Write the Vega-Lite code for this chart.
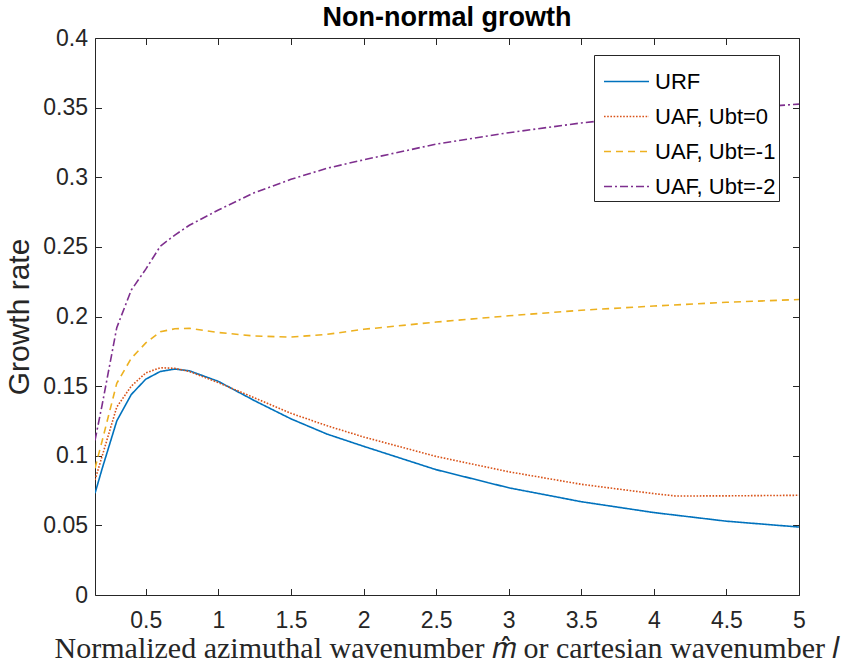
{
  "$schema": "https://vega.github.io/schema/vega-lite/v6.json",
  "width": 704,
  "height": 557,
  "autosize": {"type": "none"},
  "padding": {"left": 95, "top": 38, "right": 45, "bottom": 68},
  "background": "white",
  "title": {"text": "Non-normal growth", "font": "Liberation Sans", "fontSize": 27, "fontWeight": "bold", "color": "#000000", "offset": -5, "anchor": "middle"},
  "config": {"view": {"stroke": null}, "axis": {"grid": false}},
  "data": {"values": [
    {"k":0.15,"g":0.073,"s":"URF"},{"k":0.2,"g":0.091,"s":"URF"},{"k":0.3,"g":0.125,"s":"URF"},{"k":0.4,"g":0.144,"s":"URF"},{"k":0.5,"g":0.155,"s":"URF"},{"k":0.6,"g":0.1605,"s":"URF"},{"k":0.7,"g":0.1623,"s":"URF"},{"k":0.8,"g":0.161,"s":"URF"},{"k":1.0,"g":0.1534,"s":"URF"},{"k":1.25,"g":0.1395,"s":"URF"},{"k":1.5,"g":0.1265,"s":"URF"},{"k":1.75,"g":0.1155,"s":"URF"},{"k":2.0,"g":0.1068,"s":"URF"},{"k":2.5,"g":0.09,"s":"URF"},{"k":3.0,"g":0.077,"s":"URF"},{"k":3.5,"g":0.067,"s":"URF"},{"k":4.0,"g":0.0592,"s":"URF"},{"k":4.5,"g":0.053,"s":"URF"},{"k":5.0,"g":0.0488,"s":"URF"},
    {"k":0.15,"g":0.0826,"s":"UAF, Ubt=0"},{"k":0.2,"g":0.1,"s":"UAF, Ubt=0"},{"k":0.3,"g":0.135,"s":"UAF, Ubt=0"},{"k":0.4,"g":0.15,"s":"UAF, Ubt=0"},{"k":0.5,"g":0.1595,"s":"UAF, Ubt=0"},{"k":0.6,"g":0.1632,"s":"UAF, Ubt=0"},{"k":0.7,"g":0.1628,"s":"UAF, Ubt=0"},{"k":0.8,"g":0.1605,"s":"UAF, Ubt=0"},{"k":1.0,"g":0.1525,"s":"UAF, Ubt=0"},{"k":1.25,"g":0.1415,"s":"UAF, Ubt=0"},{"k":1.5,"g":0.1305,"s":"UAF, Ubt=0"},{"k":1.75,"g":0.1215,"s":"UAF, Ubt=0"},{"k":2.0,"g":0.1135,"s":"UAF, Ubt=0"},{"k":2.5,"g":0.0995,"s":"UAF, Ubt=0"},{"k":3.0,"g":0.0885,"s":"UAF, Ubt=0"},{"k":3.5,"g":0.0795,"s":"UAF, Ubt=0"},{"k":4.0,"g":0.0728,"s":"UAF, Ubt=0"},{"k":4.15,"g":0.0711,"s":"UAF, Ubt=0"},{"k":4.5,"g":0.0712,"s":"UAF, Ubt=0"},{"k":5.0,"g":0.0716,"s":"UAF, Ubt=0"},
    {"k":0.15,"g":0.091,"s":"UAF, Ubt=-1"},{"k":0.2,"g":0.111,"s":"UAF, Ubt=-1"},{"k":0.3,"g":0.152,"s":"UAF, Ubt=-1"},{"k":0.4,"g":0.17,"s":"UAF, Ubt=-1"},{"k":0.5,"g":0.181,"s":"UAF, Ubt=-1"},{"k":0.6,"g":0.189,"s":"UAF, Ubt=-1"},{"k":0.7,"g":0.1912,"s":"UAF, Ubt=-1"},{"k":0.8,"g":0.1915,"s":"UAF, Ubt=-1"},{"k":1.0,"g":0.1885,"s":"UAF, Ubt=-1"},{"k":1.25,"g":0.186,"s":"UAF, Ubt=-1"},{"k":1.5,"g":0.1852,"s":"UAF, Ubt=-1"},{"k":1.75,"g":0.1872,"s":"UAF, Ubt=-1"},{"k":2.0,"g":0.1908,"s":"UAF, Ubt=-1"},{"k":2.5,"g":0.196,"s":"UAF, Ubt=-1"},{"k":3.0,"g":0.2005,"s":"UAF, Ubt=-1"},{"k":3.5,"g":0.2045,"s":"UAF, Ubt=-1"},{"k":4.0,"g":0.2075,"s":"UAF, Ubt=-1"},{"k":4.5,"g":0.2102,"s":"UAF, Ubt=-1"},{"k":5.0,"g":0.2122,"s":"UAF, Ubt=-1"},
    {"k":0.15,"g":0.111,"s":"UAF, Ubt=-2"},{"k":0.2,"g":0.137,"s":"UAF, Ubt=-2"},{"k":0.3,"g":0.192,"s":"UAF, Ubt=-2"},{"k":0.4,"g":0.219,"s":"UAF, Ubt=-2"},{"k":0.5,"g":0.234,"s":"UAF, Ubt=-2"},{"k":0.6,"g":0.2505,"s":"UAF, Ubt=-2"},{"k":0.7,"g":0.2585,"s":"UAF, Ubt=-2"},{"k":0.8,"g":0.2655,"s":"UAF, Ubt=-2"},{"k":1.0,"g":0.2765,"s":"UAF, Ubt=-2"},{"k":1.25,"g":0.289,"s":"UAF, Ubt=-2"},{"k":1.5,"g":0.2985,"s":"UAF, Ubt=-2"},{"k":1.75,"g":0.3065,"s":"UAF, Ubt=-2"},{"k":2.0,"g":0.3125,"s":"UAF, Ubt=-2"},{"k":2.5,"g":0.3238,"s":"UAF, Ubt=-2"},{"k":3.0,"g":0.332,"s":"UAF, Ubt=-2"},{"k":3.5,"g":0.339,"s":"UAF, Ubt=-2"},{"k":4.0,"g":0.3445,"s":"UAF, Ubt=-2"},{"k":4.5,"g":0.349,"s":"UAF, Ubt=-2"},{"k":5.0,"g":0.3525,"s":"UAF, Ubt=-2"}
  ]},
  "layer": [
    {
      "mark": {"type": "line", "strokeWidth": 1.6, "clip": true},
      "encoding": {
        "x": {"field": "k", "type": "quantitative", "scale": {"domain": [0.15, 5], "nice": false, "zero": false},
          "axis": {"orient": "bottom", "values": [0.5,1,1.5,2,2.5,3,3.5,4,4.5,5], "format": "~g", "tickSize": -6.5, "tickColor": "#262626", "domainColor": "#262626", "labelFont": "Liberation Sans", "labelFontSize": 23, "labelColor": "#262626", "labelPadding": 21, "labelFlush": false,
            "title": "Normalized azimuthal wavenumber 𝑚̂ or cartesian wavenumber 𝑙", "titleFont": "Liberation Serif", "titleFontSize": 30, "titleFontWeight": "normal", "titleColor": "#262626", "titlePadding": 1}},
        "y": {"field": "g", "type": "quantitative", "scale": {"domain": [0, 0.4], "nice": false},
          "axis": {"orient": "left", "values": [0,0.05,0.1,0.15,0.2,0.25,0.3,0.35,0.4], "format": "~g", "tickSize": -6.5, "tickColor": "#262626", "domainColor": "#262626", "labelFont": "Liberation Sans", "labelFontSize": 23, "labelColor": "#262626", "labelPadding": 14, "labelFlush": false,
            "title": "Growth rate", "titleFont": "Liberation Sans", "titleFontSize": 30, "titleFontWeight": "normal", "titleColor": "#262626", "titlePadding": 8}},
        "color": {"field": "s", "type": "nominal",
          "scale": {"domain": ["URF", "UAF, Ubt=0", "UAF, Ubt=-1", "UAF, Ubt=-2"], "range": ["#0072BD", "#D95319", "#EDB120", "#7E2F8E"]},
          "legend": {"title": null, "orient": "none", "legendX": 499, "legendY": 17, "direction": "vertical", "symbolType": "stroke", "symbolSize": 2025, "symbolStrokeWidth": 1.6, "symbolOffset": 6, "labelFont": "Liberation Sans", "labelFontSize": 22, "labelColor": "#000000", "labelOffset": 5, "padding": 3, "rowPadding": -10, "strokeColor": "#262626", "fillColor": "white", "labelLimit": 300}},
        "strokeDash": {"field": "s", "type": "nominal",
          "scale": {"domain": ["URF", "UAF, Ubt=0", "UAF, Ubt=-1", "UAF, Ubt=-2"], "range": [[1, 0], [1.6, 1.6], [7, 5], [8, 3, 2, 3]]},
          "legend": {"title": null}}
      }
    },
    {
      "mark": {"type": "line", "opacity": 0},
      "encoding": {
        "x": {"field": "k", "type": "quantitative", "axis": {"orient": "top", "values": [0.5,1,1.5,2,2.5,3,3.5,4,4.5,5], "labels": false, "title": null, "tickSize": -6.5, "tickColor": "#262626", "domainColor": "#262626"}},
        "y": {"field": "g", "type": "quantitative", "axis": {"orient": "right", "values": [0,0.05,0.1,0.15,0.2,0.25,0.3,0.35,0.4], "labels": false, "title": null, "tickSize": -6.5, "tickColor": "#262626", "domainColor": "#262626"}},
        "detail": {"field": "s", "type": "nominal"}
      }
    }
  ],
  "resolve": {"axis": {"x": "independent", "y": "independent"}}
}
